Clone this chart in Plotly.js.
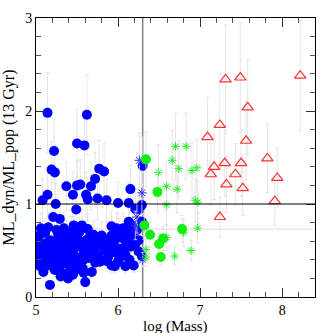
<!DOCTYPE html>
<html>
<head>
<meta charset="utf-8">
<script src="https://cdn.plot.ly/plotly-3.0.1.min.js"></script>
<style>
  html, body { margin: 0; padding: 0; background: #fff; }
  #chart { width: 333px; height: 333px; }
</style>
</head>
<body>
<div id="chart"></div>
<script>
// blue filled circles (low mass)
const blueX = [5.14, 5.62, 5.22, 5.50, 5.59, 5.19, 5.23, 5.77, 5.83, 6.30, 6.15, 5.14, 5.08, 5.37, 5.45, 5.50, 5.54, 5.72, 5.67, 5.61,
  5.63, 5.75, 5.86, 5.24, 5.49, 6.00, 6.13, 6.21, 6.26, 6.29, 5.21, 5.29, 6.13, 6.29, 5.46, 5.56, 5.63, 5.92, 5.98, 6.06,
  6.17, 6.23, 5.05, 5.11, 5.17, 5.27, 5.37, 5.50, 5.61, 5.74, 5.86, 5.96, 6.06, 6.17, 6.25, 5.01, 5.09, 5.21, 5.31, 5.41,
  5.54, 5.66, 5.78, 5.90, 6.02, 6.15, 5.13, 5.27, 5.37, 5.48, 5.58, 5.70, 5.98, 6.09, 6.29, 5.05, 5.17, 5.33, 5.41, 5.54,
  5.68, 5.78, 5.92, 5.96, 6.09, 6.19, 5.09, 5.23, 5.35, 5.48, 5.39, 5.60, 5.17, 5.06, 5.15, 5.25, 5.34, 5.43, 5.53, 5.70,
  5.80, 5.92, 6.01, 6.12, 5.03, 5.13, 5.23, 5.33, 5.45, 5.56, 5.68, 5.82, 5.90, 6.10, 6.21, 5.05, 5.16, 5.26, 5.36, 5.46,
  5.60, 5.72, 5.84, 5.95, 6.06, 5.07, 5.19, 5.31, 5.43, 5.53, 5.64, 5.76, 5.88, 6.03, 6.14, 5.10, 5.22, 5.36, 5.46, 5.58,
  5.72, 5.85, 6.00, 5.28, 5.44, 5.57, 5.30, 5.45, 5.02, 5.40, 5.65, 5.45, 5.58, 5.92, 6.25];
const blueY = [1.98, 1.96, 1.57, 1.65, 1.63, 1.37, 1.34, 1.38, 1.35, 1.41, 1.16, 1.10, 1.04, 1.19, 1.10, 1.20, 1.21, 1.27, 1.19, 1.10,
  1.05, 1.06, 1.04, 1.00, 0.94, 1.01, 1.01, 0.95, 0.94, 0.99, 0.86, 0.84, 0.81, 0.81, 0.77, 0.77, 0.73, 0.76, 0.74, 0.74,
  0.77, 0.72, 0.67, 0.69, 0.61, 0.67, 0.68, 0.65, 0.61, 0.61, 0.61, 0.61, 0.63, 0.64, 0.61, 0.49, 0.54, 0.52, 0.56, 0.58,
  0.54, 0.53, 0.56, 0.54, 0.52, 0.54, 0.43, 0.45, 0.47, 0.43, 0.47, 0.45, 0.47, 0.45, 0.44, 0.33, 0.34, 0.36, 0.33, 0.36,
  0.27, 0.38, 0.34, 0.33, 0.33, 0.34, 0.27, 0.29, 0.25, 0.29, 0.20, 0.16, 0.13, 0.74, 0.75, 0.72, 0.74, 0.71, 0.70, 0.67,
  0.66, 0.66, 0.69, 0.68, 0.60, 0.58, 0.60, 0.62, 0.62, 0.59, 0.58, 0.58, 0.59, 0.58, 0.57, 0.56, 0.50, 0.51, 0.53, 0.51,
  0.50, 0.52, 0.50, 0.52, 0.50, 0.45, 0.46, 0.42, 0.46, 0.42, 0.42, 0.44, 0.43, 0.43, 0.40, 0.38, 0.39, 0.40, 0.38, 0.40,
  0.37, 0.39, 0.38, 0.32, 0.30, 0.31, 0.22, 0.24, 0.40, 0.64, 0.64, 0.55, 0.26, 0.48, 0.49];

// blue asterisks
const blueStarX = [6.26, 6.29, 6.23, 6.21, 6.30];
const blueStarY = [1.47, 1.12, 0.86, 0.77, 0.40];

// green filled circles
const greenX = [6.34, 6.48, 6.78, 6.39, 6.55, 6.50, 6.52, 6.32];
const greenY = [1.48, 1.13, 0.73, 0.67, 0.63, 0.57, 0.43, 0.77];

// green asterisks
const greenStarX = [6.70, 6.83, 6.66, 6.74, 6.49, 6.90, 6.96, 6.59, 6.72, 6.94, 6.97, 6.59, 6.97, 6.80, 6.59, 6.89, 6.69, 6.34, 6.34];
const greenStarY = [1.62, 1.62, 1.47, 1.38, 1.34, 1.36, 1.39, 1.19, 1.16, 1.04, 1.02, 0.99, 0.74, 0.69, 0.64, 0.50, 0.44, 0.51, 0.43];

// red open triangles (high mass)
const redX = [7.31, 7.49, 8.22, 7.58, 7.24, 7.09, 7.56, 7.82, 7.30, 7.50, 7.17, 7.13, 7.43, 7.94, 7.32, 7.52, 7.91, 7.24];
const redY = [2.34, 2.36, 2.38, 2.04, 1.85, 1.72, 1.68, 1.49, 1.44, 1.44, 1.40, 1.32, 1.32, 1.28, 1.21, 1.17, 1.03, 0.86];

const massCut = 6.3;
const unityRatio = 1.0;
const pinkRatio = 0.73;

const serif = 'Liberation Serif, Times New Roman, serif';

function errBar(pct) {
    return { type: 'percent', value: pct, color: '#e0e0e0', thickness: 0.8, width: 2 };
}

const traces = [
    {
        x: blueX, y: blueY, mode: 'markers', type: 'scatter',
        marker: { color: '#0000ff', size: 10, symbol: 'circle' },
        error_y: errBar(22)
    },
    {
        x: blueStarX, y: blueStarY, mode: 'markers', type: 'scatter',
        marker: { color: '#3030ff', size: 8, symbol: 'asterisk-open', line: { color: '#3030ff', width: 1 } },
        error_y: errBar(20)
    },
    {
        x: greenStarX, y: greenStarY, mode: 'markers', type: 'scatter',
        marker: { color: '#22ee22', size: 7, symbol: 'asterisk-open', line: { color: '#22ee22', width: 1 } },
        error_y: errBar(22)
    },
    {
        x: greenX, y: greenY, mode: 'markers', type: 'scatter',
        marker: { color: '#11ee11', size: 10, symbol: 'circle' },
        error_y: errBar(20)
    },
    {
        x: redX, y: redY, mode: 'markers', type: 'scatter',
        marker: { color: '#ff3030', size: 10, symbol: 'triangle-up-open', line: { color: '#ff3030', width: 1.2 } },
        error_y: errBar(25)
    }
];

const axisCommon = {
    showgrid: false, zeroline: false, showline: true, linecolor: '#000', linewidth: 1,
    mirror: 'allticks', ticks: 'inside', ticklen: 9, tickcolor: '#333', tickwidth: 1,
    tickfont: { family: serif, size: 14, color: '#000' },
    minor: { dtick: 0.2, ticks: 'inside', ticklen: 5, tickcolor: '#555', tickwidth: 1 }
};

const layout = {
    width: 333, height: 333,
    margin: { l: 36, r: 18, t: 18, b: 36 },
    showlegend: false,
    paper_bgcolor: '#fff', plot_bgcolor: '#fff',
    xaxis: Object.assign({}, axisCommon, {
        range: [5, 8.4], dtick: 1, tick0: 5
    }),
    yaxis: Object.assign({}, axisCommon, {
        range: [0, 3], dtick: 1, tick0: 0,
        title: { text: 'ML_dyn/ML_pop (13 Gyr)', font: { family: serif, size: 16, color: '#000' }, standoff: 6 }
    }),
    // x title as an annotation so it can sit just under the tick labels
    annotations: [
        { text: 'log (Mass)', xref: 'paper', yref: 'paper', x: 0.5, y: 0, xanchor: 'center', yanchor: 'top',
          yshift: -20, showarrow: false, borderpad: 0, font: { family: serif, size: 15, color: '#000' } }
    ],
    shapes: [
        { type: 'line', xref: 'paper', yref: 'y', x0: 0, x1: 1, y0: pinkRatio, y1: pinkRatio,
          line: { color: '#f5d0f0', width: 1 }, layer: 'below' },
        { type: 'line', xref: 'x', yref: 'paper', x0: massCut, x1: massCut, y0: 0, y1: 1,
          line: { color: '#808080', width: 1.5 }, layer: 'below' },
        { type: 'line', xref: 'paper', yref: 'y', x0: 0, x1: 1, y0: unityRatio, y1: unityRatio,
          line: { color: '#000', width: 1 }, layer: 'above' }
    ]
};

Plotly.newPlot('chart', traces, layout, { staticPlot: true, displayModeBar: false });
</script>
</body>
</html>
